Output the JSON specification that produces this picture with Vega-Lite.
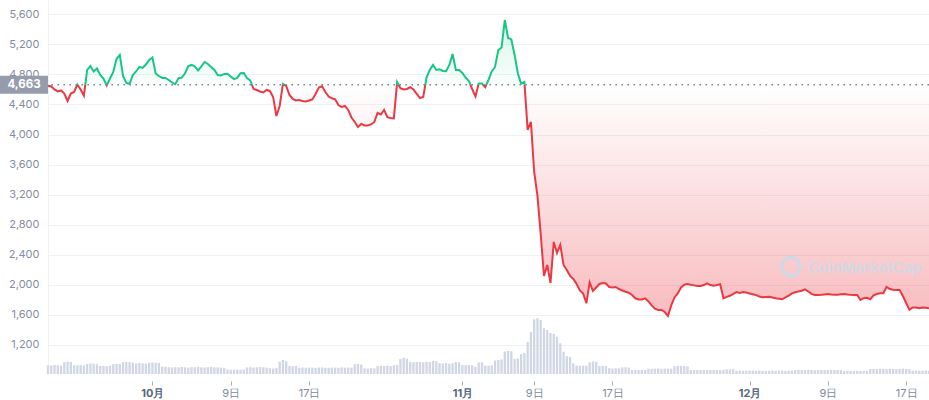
{
"$schema":"https://vega.github.io/schema/vega-lite/v6.json",
"width":881,"height":374,
"autosize":{"type":"none"},
"padding":{"left":48,"top":0,"right":0,"bottom":26},
"background":"#ffffff",
"config":{"view":{"stroke":null},"axis":{"labelFont":"Inter"},"text":{"font":"Inter"},"scale":{"continuousPadding":0}},
"datasets":{
"ref":[{"r":4663,"label":"4,663"}],
"wm":[{"t":"2022-12-12T18:24","p":2154,"label":"CoinMarketCap"}],
"logo":[{"t":"2022-12-05T04:48","p":2242}],
"d":[
{"t":"2022-09-20T08:00","p":4650,"v":87},{"t":"2022-09-20T16:00","p":4639,"v":85},{"t":"2022-09-21T00:00","p":4600,"v":90},
{"t":"2022-09-21T08:00","p":4573,"v":86},{"t":"2022-09-21T16:00","p":4586,"v":84},{"t":"2022-09-22T00:00","p":4546,"v":118},
{"t":"2022-09-22T08:00","p":4447,"v":124},{"t":"2022-09-22T16:00","p":4546,"v":120},{"t":"2022-09-23T00:00","p":4566,"v":88},
{"t":"2022-09-23T08:00","p":4666,"v":86},{"t":"2022-09-23T16:00","p":4600,"v":90},{"t":"2022-09-24T00:00","p":4517,"v":87},
{"t":"2022-09-24T08:00","p":4859,"v":100},{"t":"2022-09-24T16:00","p":4912,"v":106},{"t":"2022-09-25T00:00","p":4839,"v":103},
{"t":"2022-09-25T08:00","p":4879,"v":98},{"t":"2022-09-25T16:00","p":4792,"v":80},{"t":"2022-09-26T00:00","p":4746,"v":82},
{"t":"2022-09-26T08:00","p":4653,"v":78},{"t":"2022-09-26T16:00","p":4746,"v":84},{"t":"2022-09-27T00:00","p":4832,"v":98},
{"t":"2022-09-27T08:00","p":5005,"v":102},{"t":"2022-09-27T16:00","p":5059,"v":100},{"t":"2022-09-28T00:00","p":4779,"v":118},
{"t":"2022-09-28T08:00","p":4686,"v":122},{"t":"2022-09-28T16:00","p":4673,"v":120},{"t":"2022-09-29T00:00","p":4792,"v":115},
{"t":"2022-09-29T08:00","p":4839,"v":105},{"t":"2022-09-29T16:00","p":4899,"v":110},{"t":"2022-09-30T00:00","p":4886,"v":107},
{"t":"2022-09-30T08:00","p":4932,"v":104},{"t":"2022-09-30T16:00","p":4992,"v":112},{"t":"2022-10-01T00:00","p":5025,"v":116},
{"t":"2022-10-01T08:00","p":4812,"v":113},{"t":"2022-10-01T16:00","p":4779,"v":110},{"t":"2022-10-02T00:00","p":4753,"v":75},
{"t":"2022-10-02T08:00","p":4753,"v":72},{"t":"2022-10-02T16:00","p":4726,"v":67},{"t":"2022-10-03T00:00","p":4693,"v":65},
{"t":"2022-10-03T08:00","p":4669,"v":68},{"t":"2022-10-03T16:00","p":4749,"v":66},{"t":"2022-10-04T00:00","p":4757,"v":70},
{"t":"2022-10-04T08:00","p":4815,"v":67},{"t":"2022-10-04T16:00","p":4912,"v":64},{"t":"2022-10-05T00:00","p":4926,"v":68},
{"t":"2022-10-05T08:00","p":4906,"v":66},{"t":"2022-10-05T16:00","p":4852,"v":69},{"t":"2022-10-06T00:00","p":4906,"v":67},
{"t":"2022-10-06T08:00","p":4965,"v":65},{"t":"2022-10-06T16:00","p":4939,"v":68},{"t":"2022-10-07T00:00","p":4899,"v":70},
{"t":"2022-10-07T08:00","p":4859,"v":66},{"t":"2022-10-07T16:00","p":4792,"v":67},{"t":"2022-10-08T00:00","p":4786,"v":64},
{"t":"2022-10-08T08:00","p":4806,"v":62},{"t":"2022-10-08T16:00","p":4808,"v":45},{"t":"2022-10-09T00:00","p":4772,"v":42},
{"t":"2022-10-09T08:00","p":4737,"v":43},{"t":"2022-10-09T16:00","p":4753,"v":44},{"t":"2022-10-10T00:00","p":4815,"v":41},
{"t":"2022-10-10T08:00","p":4819,"v":46},{"t":"2022-10-10T16:00","p":4753,"v":66},{"t":"2022-10-11T00:00","p":4719,"v":68},
{"t":"2022-10-11T08:00","p":4606,"v":65},{"t":"2022-10-11T16:00","p":4593,"v":67},{"t":"2022-10-12T00:00","p":4573,"v":69},
{"t":"2022-10-12T08:00","p":4560,"v":66},{"t":"2022-10-12T16:00","p":4593,"v":64},{"t":"2022-10-13T00:00","p":4580,"v":58},
{"t":"2022-10-13T08:00","p":4500,"v":55},{"t":"2022-10-13T16:00","p":4247,"v":62},{"t":"2022-10-14T00:00","p":4380,"v":125},
{"t":"2022-10-14T08:00","p":4673,"v":140},{"t":"2022-10-14T16:00","p":4646,"v":128},{"t":"2022-10-15T00:00","p":4526,"v":82},
{"t":"2022-10-15T08:00","p":4473,"v":78},{"t":"2022-10-15T16:00","p":4453,"v":80},{"t":"2022-10-16T00:00","p":4460,"v":63},
{"t":"2022-10-16T08:00","p":4447,"v":65},{"t":"2022-10-16T16:00","p":4440,"v":62},{"t":"2022-10-17T00:00","p":4453,"v":64},
{"t":"2022-10-17T08:00","p":4466,"v":63},{"t":"2022-10-17T16:00","p":4540,"v":61},{"t":"2022-10-18T00:00","p":4626,"v":64},
{"t":"2022-10-18T08:00","p":4642,"v":66},{"t":"2022-10-18T16:00","p":4566,"v":63},{"t":"2022-10-19T00:00","p":4506,"v":62},
{"t":"2022-10-19T08:00","p":4482,"v":65},{"t":"2022-10-19T16:00","p":4469,"v":64},{"t":"2022-10-20T00:00","p":4393,"v":62},
{"t":"2022-10-20T08:00","p":4367,"v":66},{"t":"2022-10-20T16:00","p":4380,"v":63},{"t":"2022-10-21T00:00","p":4327,"v":65},
{"t":"2022-10-21T08:00","p":4227,"v":64},{"t":"2022-10-21T16:00","p":4167,"v":98},{"t":"2022-10-22T00:00","p":4101,"v":102},
{"t":"2022-10-22T08:00","p":4141,"v":96},{"t":"2022-10-22T16:00","p":4121,"v":57},{"t":"2022-10-23T00:00","p":4121,"v":55},
{"t":"2022-10-23T08:00","p":4134,"v":59},{"t":"2022-10-23T16:00","p":4167,"v":56},{"t":"2022-10-24T00:00","p":4287,"v":78},
{"t":"2022-10-24T08:00","p":4267,"v":82},{"t":"2022-10-24T16:00","p":4327,"v":80},{"t":"2022-10-25T00:00","p":4230,"v":84},
{"t":"2022-10-25T08:00","p":4220,"v":79},{"t":"2022-10-25T16:00","p":4216,"v":88},{"t":"2022-10-26T00:00","p":4699,"v":92},
{"t":"2022-10-26T08:00","p":4616,"v":150},{"t":"2022-10-26T16:00","p":4600,"v":163},{"t":"2022-10-27T00:00","p":4606,"v":155},
{"t":"2022-10-27T08:00","p":4629,"v":122},{"t":"2022-10-27T16:00","p":4600,"v":118},{"t":"2022-10-28T00:00","p":4540,"v":120},
{"t":"2022-10-28T08:00","p":4486,"v":121},{"t":"2022-10-28T16:00","p":4500,"v":117},{"t":"2022-10-29T00:00","p":4759,"v":123},
{"t":"2022-10-29T08:00","p":4859,"v":119},{"t":"2022-10-29T16:00","p":4926,"v":130},{"t":"2022-10-30T00:00","p":4859,"v":128},
{"t":"2022-10-30T08:00","p":4867,"v":108},{"t":"2022-10-30T16:00","p":4846,"v":105},{"t":"2022-10-31T00:00","p":4843,"v":110},
{"t":"2022-10-31T08:00","p":4926,"v":104},{"t":"2022-10-31T16:00","p":5072,"v":107},{"t":"2022-11-01T00:00","p":4859,"v":120},
{"t":"2022-11-01T08:00","p":4859,"v":118},{"t":"2022-11-01T16:00","p":4819,"v":92},{"t":"2022-11-02T00:00","p":4759,"v":88},
{"t":"2022-11-02T08:00","p":4713,"v":90},{"t":"2022-11-02T16:00","p":4606,"v":87},{"t":"2022-11-03T00:00","p":4506,"v":73},
{"t":"2022-11-03T08:00","p":4679,"v":115},{"t":"2022-11-03T16:00","p":4679,"v":118},{"t":"2022-11-04T00:00","p":4630,"v":84},
{"t":"2022-11-04T08:00","p":4726,"v":82},{"t":"2022-11-04T16:00","p":4839,"v":86},{"t":"2022-11-05T00:00","p":4899,"v":135},
{"t":"2022-11-05T08:00","p":5125,"v":140},{"t":"2022-11-05T16:00","p":5158,"v":145},{"t":"2022-11-06T00:00","p":5524,"v":225},
{"t":"2022-11-06T08:00","p":5285,"v":232},{"t":"2022-11-06T16:00","p":5265,"v":228},{"t":"2022-11-07T00:00","p":5059,"v":150},
{"t":"2022-11-07T08:00","p":4812,"v":156},{"t":"2022-11-07T16:00","p":4679,"v":200},{"t":"2022-11-08T00:00","p":4699,"v":210},
{"t":"2022-11-08T08:00","p":4061,"v":320},{"t":"2022-11-08T16:00","p":4167,"v":420},{"t":"2022-11-09T00:00","p":3502,"v":547},
{"t":"2022-11-09T08:00","p":3183,"v":557},{"t":"2022-11-09T16:00","p":2677,"v":540},{"t":"2022-11-10T00:00","p":2118,"v":457},
{"t":"2022-11-10T08:00","p":2265,"v":440},{"t":"2022-11-10T16:00","p":2025,"v":410},{"t":"2022-11-11T00:00","p":2571,"v":400},
{"t":"2022-11-11T08:00","p":2424,"v":373},{"t":"2022-11-11T16:00","p":2531,"v":307},{"t":"2022-11-12T00:00","p":2265,"v":223},
{"t":"2022-11-12T08:00","p":2198,"v":178},{"t":"2022-11-12T16:00","p":2118,"v":170},{"t":"2022-11-13T00:00","p":2078,"v":107},
{"t":"2022-11-13T08:00","p":2012,"v":85},{"t":"2022-11-13T16:00","p":1925,"v":82},{"t":"2022-11-14T00:00","p":1885,"v":84},
{"t":"2022-11-14T08:00","p":1755,"v":83},{"t":"2022-11-14T16:00","p":2032,"v":118},{"t":"2022-11-15T00:00","p":1919,"v":125},
{"t":"2022-11-15T08:00","p":1965,"v":122},{"t":"2022-11-15T16:00","p":2012,"v":80},{"t":"2022-11-16T00:00","p":2025,"v":82},
{"t":"2022-11-16T08:00","p":2018,"v":78},{"t":"2022-11-16T16:00","p":1972,"v":58},{"t":"2022-11-17T00:00","p":1965,"v":55},
{"t":"2022-11-17T08:00","p":1972,"v":57},{"t":"2022-11-17T16:00","p":1945,"v":56},{"t":"2022-11-18T00:00","p":1925,"v":66},
{"t":"2022-11-18T08:00","p":1909,"v":68},{"t":"2022-11-18T16:00","p":1895,"v":65},{"t":"2022-11-19T00:00","p":1865,"v":40},
{"t":"2022-11-19T08:00","p":1821,"v":42},{"t":"2022-11-19T16:00","p":1806,"v":39},{"t":"2022-11-20T00:00","p":1806,"v":41},
{"t":"2022-11-20T08:00","p":1820,"v":40},{"t":"2022-11-20T16:00","p":1780,"v":53},{"t":"2022-11-21T00:00","p":1726,"v":52},
{"t":"2022-11-21T08:00","p":1682,"v":54},{"t":"2022-11-21T16:00","p":1666,"v":55},{"t":"2022-11-22T00:00","p":1666,"v":52},
{"t":"2022-11-22T08:00","p":1639,"v":53},{"t":"2022-11-22T16:00","p":1586,"v":54},{"t":"2022-11-23T00:00","p":1726,"v":52},
{"t":"2022-11-23T08:00","p":1832,"v":78},{"t":"2022-11-23T16:00","p":1885,"v":82},{"t":"2022-11-24T00:00","p":1965,"v":80},
{"t":"2022-11-24T08:00","p":2001,"v":79},{"t":"2022-11-24T16:00","p":2010,"v":76},{"t":"2022-11-25T00:00","p":2001,"v":40},
{"t":"2022-11-25T08:00","p":1993,"v":41},{"t":"2022-11-25T16:00","p":1985,"v":39},{"t":"2022-11-26T00:00","p":1985,"v":40},
{"t":"2022-11-26T08:00","p":1998,"v":42},{"t":"2022-11-26T16:00","p":2021,"v":40},{"t":"2022-11-27T00:00","p":1998,"v":39},
{"t":"2022-11-27T08:00","p":1989,"v":41},{"t":"2022-11-27T16:00","p":1998,"v":40},{"t":"2022-11-28T00:00","p":2009,"v":38},
{"t":"2022-11-28T08:00","p":1821,"v":42},{"t":"2022-11-28T16:00","p":1841,"v":47},{"t":"2022-11-29T00:00","p":1855,"v":46},
{"t":"2022-11-29T08:00","p":1881,"v":48},{"t":"2022-11-29T16:00","p":1905,"v":33},{"t":"2022-11-30T00:00","p":1892,"v":34},
{"t":"2022-11-30T08:00","p":1905,"v":32},{"t":"2022-11-30T16:00","p":1899,"v":33},{"t":"2022-12-01T00:00","p":1885,"v":35},
{"t":"2022-12-01T08:00","p":1875,"v":33},{"t":"2022-12-01T16:00","p":1863,"v":32},{"t":"2022-12-02T00:00","p":1845,"v":34},
{"t":"2022-12-02T08:00","p":1835,"v":33},{"t":"2022-12-02T16:00","p":1839,"v":31},{"t":"2022-12-03T00:00","p":1841,"v":33},
{"t":"2022-12-03T08:00","p":1832,"v":34},{"t":"2022-12-03T16:00","p":1821,"v":32},{"t":"2022-12-04T00:00","p":1815,"v":33},
{"t":"2022-12-04T08:00","p":1808,"v":34},{"t":"2022-12-04T16:00","p":1832,"v":32},{"t":"2022-12-05T00:00","p":1857,"v":33},
{"t":"2022-12-05T08:00","p":1887,"v":35},{"t":"2022-12-05T16:00","p":1901,"v":40},{"t":"2022-12-06T00:00","p":1913,"v":41},
{"t":"2022-12-06T08:00","p":1921,"v":39},{"t":"2022-12-06T16:00","p":1939,"v":40},{"t":"2022-12-07T00:00","p":1912,"v":42},
{"t":"2022-12-07T08:00","p":1880,"v":40},{"t":"2022-12-07T16:00","p":1865,"v":38},{"t":"2022-12-08T00:00","p":1865,"v":40},
{"t":"2022-12-08T08:00","p":1867,"v":41},{"t":"2022-12-08T16:00","p":1873,"v":39},{"t":"2022-12-09T00:00","p":1877,"v":40},
{"t":"2022-12-09T08:00","p":1871,"v":42},{"t":"2022-12-09T16:00","p":1867,"v":40},{"t":"2022-12-10T00:00","p":1869,"v":39},
{"t":"2022-12-10T08:00","p":1875,"v":41},{"t":"2022-12-10T16:00","p":1879,"v":30},{"t":"2022-12-11T00:00","p":1872,"v":31},
{"t":"2022-12-11T08:00","p":1868,"v":29},{"t":"2022-12-11T16:00","p":1865,"v":30},{"t":"2022-12-12T00:00","p":1865,"v":32},
{"t":"2022-12-12T08:00","p":1799,"v":30},{"t":"2022-12-12T16:00","p":1823,"v":29},{"t":"2022-12-13T00:00","p":1827,"v":31},
{"t":"2022-12-13T08:00","p":1809,"v":50},{"t":"2022-12-13T16:00","p":1861,"v":52},{"t":"2022-12-14T00:00","p":1879,"v":49},
{"t":"2022-12-14T08:00","p":1888,"v":51},{"t":"2022-12-14T16:00","p":1888,"v":50},{"t":"2022-12-15T00:00","p":1972,"v":48},
{"t":"2022-12-15T08:00","p":1945,"v":52},{"t":"2022-12-15T16:00","p":1936,"v":50},{"t":"2022-12-16T00:00","p":1932,"v":49},
{"t":"2022-12-16T08:00","p":1932,"v":51},{"t":"2022-12-16T16:00","p":1852,"v":53},{"t":"2022-12-17T00:00","p":1759,"v":50},
{"t":"2022-12-17T08:00","p":1668,"v":48},{"t":"2022-12-17T16:00","p":1699,"v":33},{"t":"2022-12-18T00:00","p":1700,"v":34},
{"t":"2022-12-18T08:00","p":1690,"v":32},{"t":"2022-12-18T16:00","p":1698,"v":33},{"t":"2022-12-19T00:00","p":1695,"v":35},
{"t":"2022-12-19T08:00","p":1688,"v":33}
]},
"resolve":{"scale":{"y":"independent"},"axis":{"y":"independent","x":"independent"}},
"layer":[
{"data":{"name":"d"},
 "mark":{"type":"line","strokeWidth":0,"opacity":0},
 "encoding":{
  "x":{"field":"t","type":"temporal",
       "scale":{"domain":[{"year":2022,"month":9,"date":20,"hours":8},{"year":2022,"month":12,"date":19,"hours":8}],"padding":0},
       "axis":{"orient":"bottom","title":null,"values":[{"year":2022,"month":10,"date":9},{"year":2022,"month":10,"date":17},{"year":2022,"month":11,"date":9},{"year":2022,"month":11,"date":17},{"year":2022,"month":12,"date":9},{"year":2022,"month":12,"date":17}],
        "format":"%-d日","labelOverlap":false,"labelFlush":false,"grid":false,"domain":false,"ticks":true,"tickSize":4,"tickColor":"#a6adbb","offset":7,"labelPadding":2,"labelFontSize":11,
        "labelColor":"#808a9d"}},
  "y":{"field":"p","type":"quantitative","scale":{"domain":[814,5790]},
        "axis":{"orient":"left","title":null,"values":[1200,1600,2000,2400,2800,3200,3600,4000,4400,4800,5200,5600],"format":",.0f",
          "grid":true,"gridColor":"#eff2f5","gridWidth":1,"domain":true,"domainColor":"#eff2f5","ticks":false,
          "labelPadding":9,"labelFontSize":11,"labelColor":"#858ca2"}}}},
{"data":{"name":"d"},
 "mark":{"type":"line","strokeWidth":0,"opacity":0},
 "encoding":{
  "x":{"field":"t","type":"temporal",
       "axis":{"orient":"bottom","title":null,"values":[{"year":2022,"month":10,"date":1},{"year":2022,"month":11,"date":1,"hours":16},{"year":2022,"month":12,"date":1}],
        "format":"%-m月","labelOverlap":false,"labelFlush":false,"grid":false,"domain":false,"ticks":true,"tickSize":4,"tickColor":"#a6adbb","offset":7,"labelPadding":2,"labelFontSize":11,
        "labelColor":"#58667e","labelFontWeight":"bold"}},
  "y":{"field":"p","type":"quantitative","scale":{"domain":[814,5790]},"axis":null}}},
{"data":{"name":"d"},
 "mark":{"type":"bar","width":2.3,"color":"#cfd6e4"},
 "encoding":{
  "x":{"field":"t","type":"temporal","axis":null},
  "y":{"field":"v","type":"quantitative","scale":{"domain":[0,3740]},"axis":null}}},
{"data":{"name":"d"},
  "mark":{"type":"area","fill":{"gradient":"linear","x1":0,"y1":0,"x2":0,"y2":1,"stops":[
     {"offset":0,"color":"rgba(22,199,132,0.18)"},{"offset":0.2186,"color":"rgba(22,199,132,0.02)"},
     {"offset":0.2186,"color":"rgba(234,57,67,0.0)"},{"offset":1,"color":"rgba(234,57,67,0.34)"}]}},
  "encoding":{
   "x":{"field":"t","type":"temporal","axis":null},
   "y":{"field":"p","type":"quantitative","scale":{"domain":[814,5790]},"axis":null},
   "y2":{"datum":4663}}},
{"data":{"name":"ref"},
  "mark":{"type":"rule","strokeDash":[1.6,4.4],"stroke":"#7f8797","strokeWidth":1.4},
  "encoding":{"y":{"field":"r","type":"quantitative","scale":{"domain":[814,5790]},"axis":null}}},
{"data":{"name":"d"},
  "mark":{"type":"line","strokeWidth":2,"stroke":{"gradient":"linear","x1":0,"y1":0,"x2":0,"y2":1,"stops":[
     {"offset":0,"color":"#16c784"},{"offset":0.2186,"color":"#16c784"},
     {"offset":0.2186,"color":"#ea3943"},{"offset":1,"color":"#ea3943"}]}},
  "encoding":{
   "x":{"field":"t","type":"temporal","axis":null},
   "y":{"field":"p","type":"quantitative","scale":{"domain":[814,5790]},"axis":null}}},
{"data":{"name":"wm"},
  "mark":{"type":"text","fontSize":15,"fontWeight":600,"color":"#d0d8e5","align":"center","baseline":"alphabetic"},
  "encoding":{"x":{"field":"t","type":"temporal","axis":null},
   "y":{"field":"p","type":"quantitative","scale":{"domain":[814,5790]},"axis":null},
   "text":{"field":"label"}}},
{"data":{"name":"logo"},
  "mark":{"type":"point","shape":"circle","filled":false,"size":340,"strokeWidth":3.5,"stroke":"#d0d8e5","opacity":1},
  "encoding":{"x":{"field":"t","type":"temporal","axis":null},
   "y":{"field":"p","type":"quantitative","scale":{"domain":[814,5790]},"axis":null}}},
{"data":{"name":"ref"},
  "mark":{"type":"rect","fill":"#959cab","xOffset":-48,"yOffset":-9,"y2Offset":9},
  "encoding":{"x":{"datum":{"year":2022,"month":9,"date":20,"hours":8},"type":"temporal","axis":null},
   "x2":{"datum":{"year":2022,"month":9,"date":20,"hours":8}},
   "y":{"field":"r","type":"quantitative","scale":{"domain":[814,5790]},"axis":null},
   "y2":{"field":"r"}}},
{"data":{"name":"ref"},
  "mark":{"type":"text","color":"#ffffff","fontWeight":"bold","fontSize":11.5,"xOffset":-24,"align":"center","baseline":"middle"},
  "encoding":{"x":{"datum":{"year":2022,"month":9,"date":20,"hours":8},"type":"temporal","axis":null},
   "y":{"field":"r","type":"quantitative","scale":{"domain":[814,5790]},"axis":null},
   "text":{"field":"label"}}}
]
}
